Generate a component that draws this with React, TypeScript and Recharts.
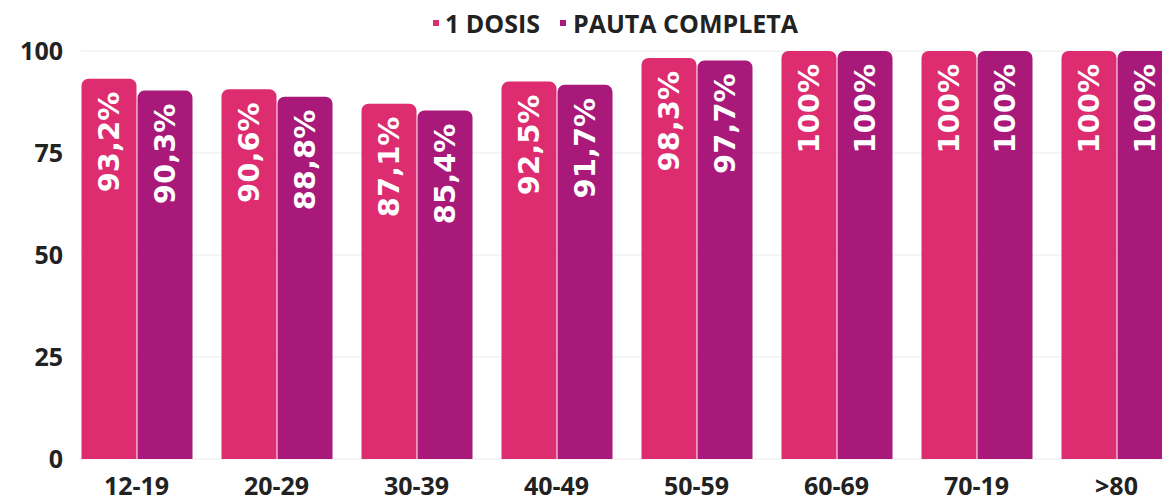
import React from 'react';
import { BarChart, Bar, XAxis, YAxis, CartesianGrid, Legend, LabelList } from 'recharts';

const categories = ['12-19', '20-29', '30-39', '40-49', '50-59', '60-69', '70-19', '>80'];
const dosis1 = [93.2, 90.6, 87.1, 92.5, 98.3, 100, 100, 100];
const pautaCompleta = [90.3, 88.8, 85.4, 91.7, 97.7, 100, 100, 100];
const yTicks = [0, 25, 50, 75, 100];
const seriesNames = ['1 DOSIS', 'PAUTA COMPLETA'];

const PINK = '#DD2C70';
const PURPLE = '#A8197A';
const FONT = '"Open Sans", sans-serif';
const LABEL_FONT = '"DejaVu Sans", sans-serif';

const data = categories.map((c, i) => ({ cat: c, d1: dosis1[i], pc: pautaCompleta[i] }));

const fmt = (v: number) => (Number.isInteger(v) ? String(v) : v.toFixed(1).replace('.', ',')) + '%';

const BarLabel = (props: any) => {
  const { x, y, width, value } = props;
  const cx = Number(x) + Number(width) / 2 + 10;
  const ty = Number(y) + 13;
  return (
    <text
      x={cx}
      y={ty}
      transform={`rotate(-90, ${cx}, ${ty})`}
      textAnchor="end"
      fill="#ffffff"
      fontFamily={LABEL_FONT}
      fontWeight={700}
      fontSize={29}
    >
      {fmt(Number(value))}
    </text>
  );
};

const LegendContent = () => (
  <div
    style={{
      display: 'flex',
      alignItems: 'center',
      height: 45,
      paddingLeft: 433,
      fontFamily: FONT,
      fontWeight: 700,
      fontSize: 25,
      color: '#222',
      boxSizing: 'border-box',
    }}
  >
    <span style={{ display: 'inline-block', width: 6, height: 6, background: PINK, marginRight: 6 }} />
    <span style={{ marginRight: 20 }}>{seriesNames[0]}</span>
    <span style={{ display: 'inline-block', width: 6, height: 6, background: PURPLE, marginRight: 7 }} />
    <span>{seriesNames[1]}</span>
  </div>
);

export default function App() {
  return (
    <div style={{ position: 'absolute', top: 0, left: 0, width: 1162, height: 496, overflow: 'hidden', background: '#fff' }}>
      <BarChart
        width={1200}
        height={496}
        data={data}
        margin={{ top: 6, right: 13.5, left: 0, bottom: 0 }}
        barSize={55}
        barGap={1}
      >
        <CartesianGrid vertical={false} stroke="#ebebeb" />
        <Legend
          verticalAlign="top"
          content={LegendContent}
          wrapperStyle={{ top: 0, left: 0, width: 1162, height: 45 }}
        />
        <XAxis
          dataKey="cat"
          axisLine={false}
          tickLine={false}
          height={37}
          tickMargin={12}
          padding={{ left: -14.5, right: 0 }}
          interval={0}
          tick={{ fill: '#222', fontFamily: FONT, fontWeight: 700, fontSize: 25 }}
        />
        <YAxis
          domain={[0, 100]}
          ticks={yTicks}
          axisLine={false}
          tickLine={false}
          width={81}
          tickMargin={12}
          tick={{ fill: '#222', fontFamily: FONT, fontWeight: 700, fontSize: 25 }}
        />
        <Bar dataKey="d1" name={seriesNames[0]} fill={PINK} radius={[7, 7, 0, 0]} isAnimationActive={false}>
          <LabelList dataKey="d1" content={BarLabel} />
        </Bar>
        <Bar dataKey="pc" name={seriesNames[1]} fill={PURPLE} radius={[7, 7, 0, 0]} isAnimationActive={false}>
          <LabelList dataKey="pc" content={BarLabel} />
        </Bar>
      </BarChart>
    </div>
  );
}
